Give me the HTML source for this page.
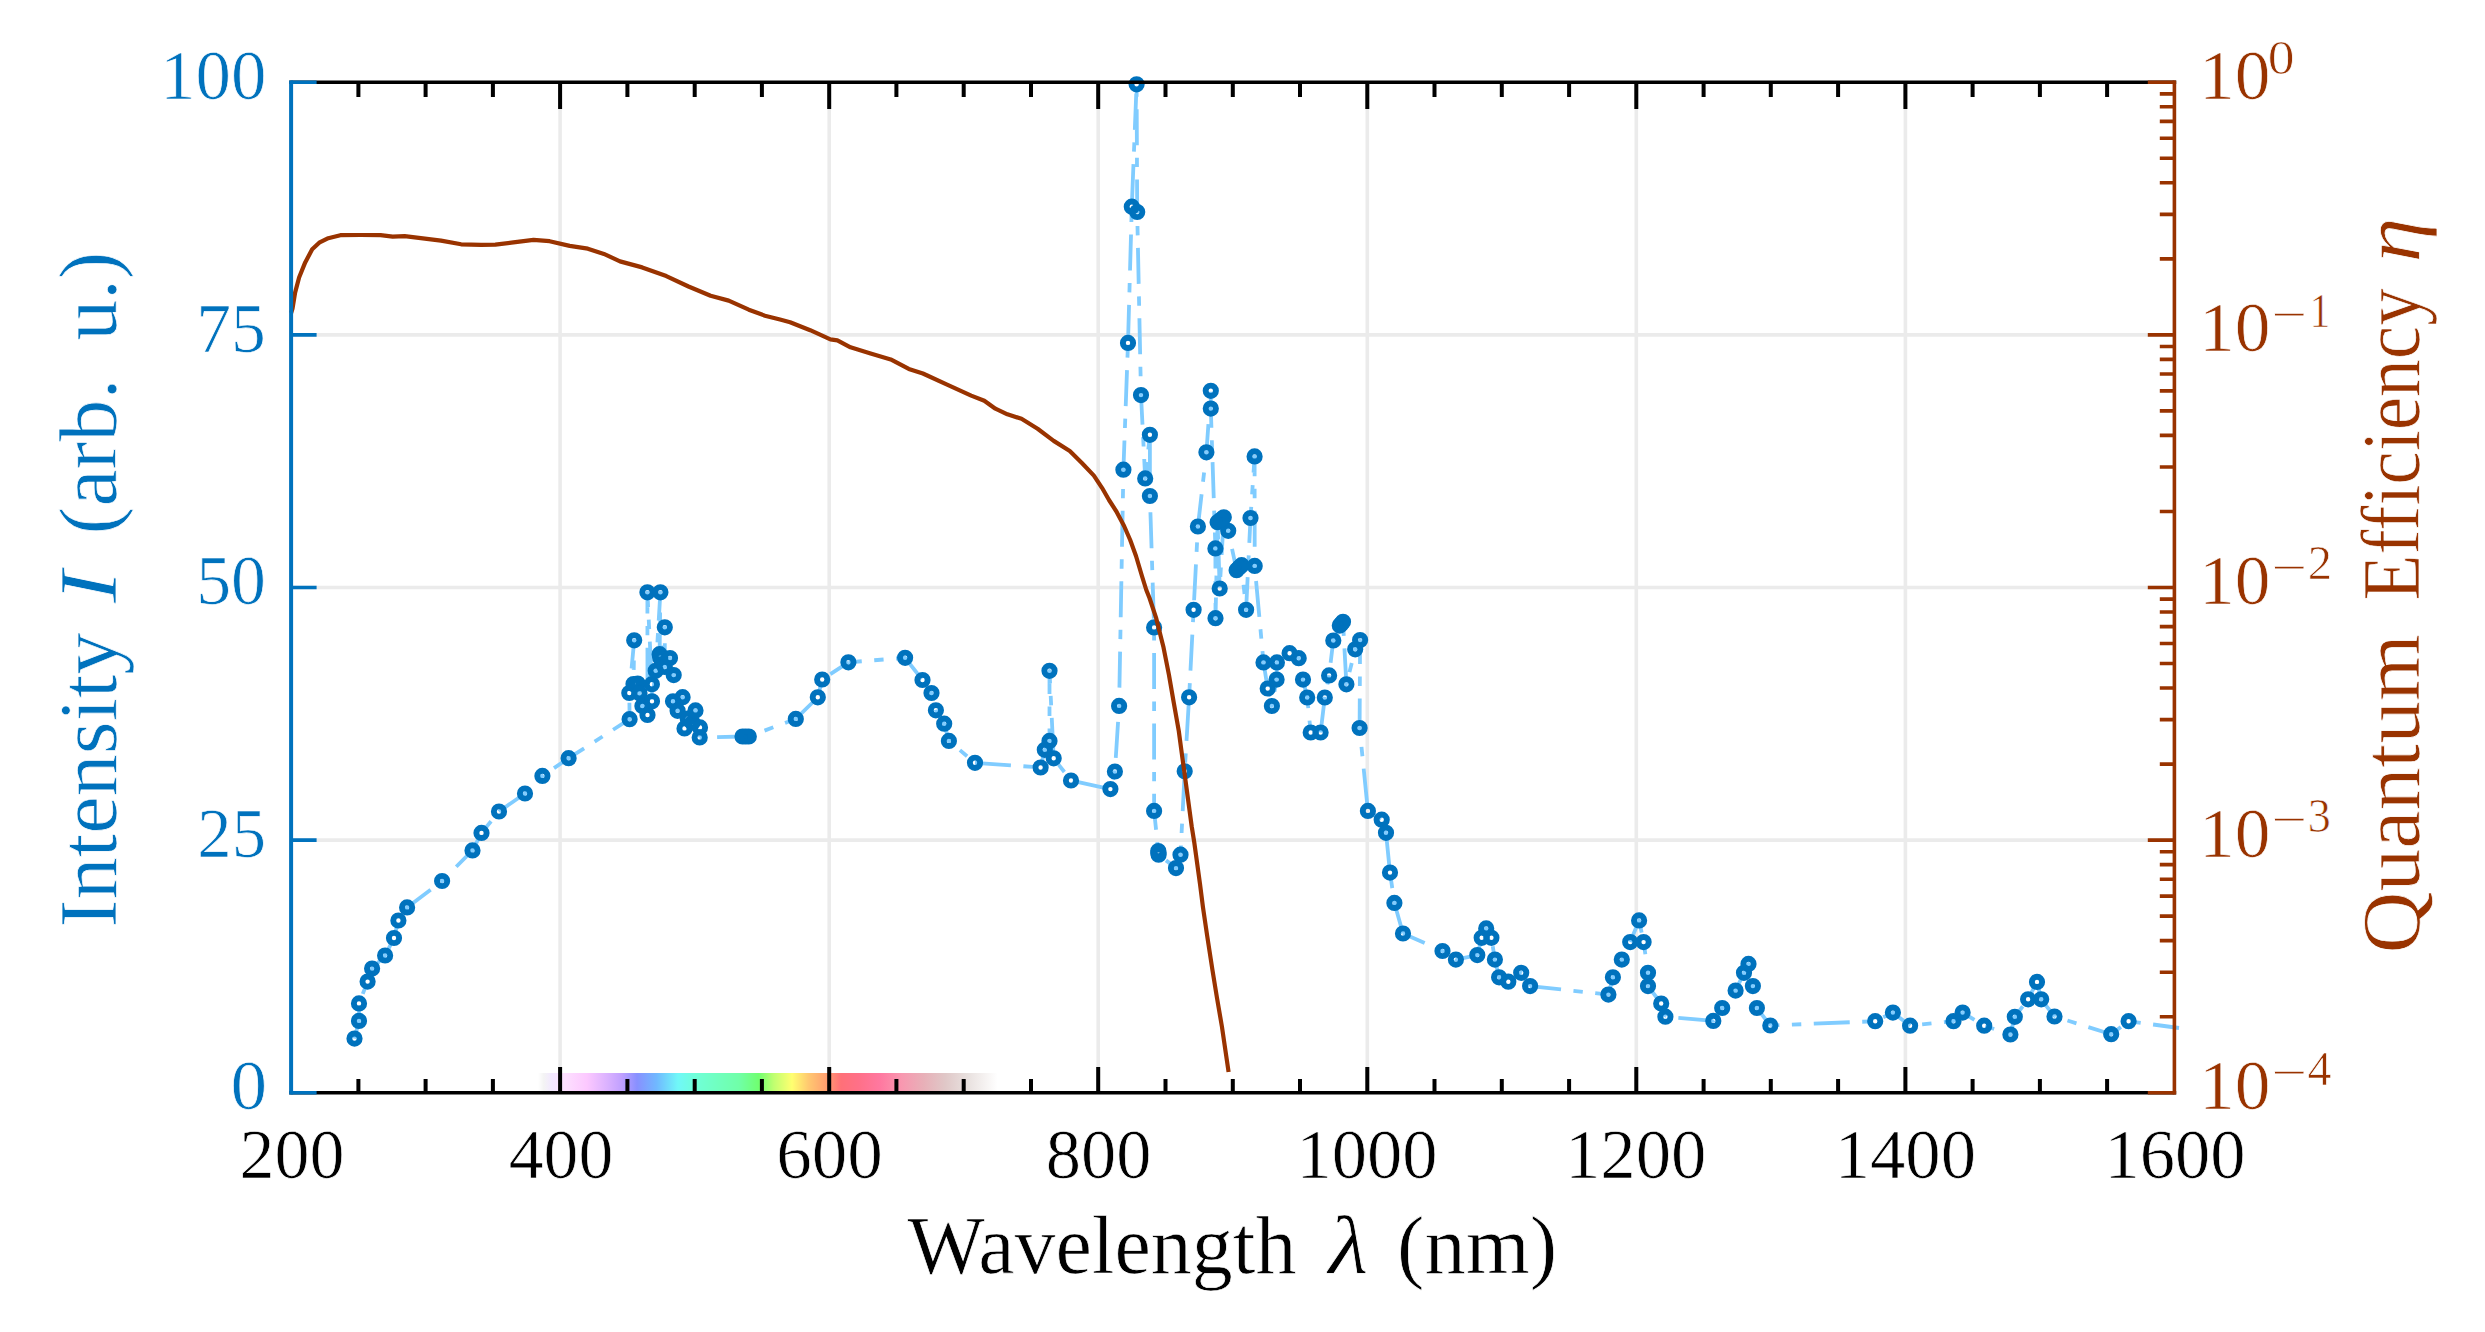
<!DOCTYPE html>
<html lang="en"><head><meta charset="utf-8"><title>Spectrum</title>
<style>html,body{margin:0;padding:0;background:#fff;}body{width:2485px;height:1332px;overflow:hidden;}svg{display:block;}text{font-family:"Liberation Serif", "DejaVu Serif", serif;stroke:#fff;stroke-width:0.7px;}</style>
</head><body>
<svg width="2485" height="1332" viewBox="0 0 2485 1332">
<defs>
<linearGradient id="spec" gradientUnits="userSpaceOnUse" x1="538.0" y1="0" x2="997.6" y2="0">
<stop offset="0.0000" stop-color="#ffffff"/>
<stop offset="0.0120" stop-color="#f4f4f4"/>
<stop offset="0.0305" stop-color="#f2e8ff"/>
<stop offset="0.0587" stop-color="#fde0ff"/>
<stop offset="0.1066" stop-color="#fcc8ff"/>
<stop offset="0.1538" stop-color="#d8b0ff"/>
<stop offset="0.1821" stop-color="#c0a0ff"/>
<stop offset="0.2154" stop-color="#8890ff"/>
<stop offset="0.2578" stop-color="#70b8ff"/>
<stop offset="0.3046" stop-color="#70f8f8"/>
<stop offset="0.3429" stop-color="#70ffd8"/>
<stop offset="0.3895" stop-color="#70ffc0"/>
<stop offset="0.4373" stop-color="#70ffa8"/>
<stop offset="0.4800" stop-color="#70ff70"/>
<stop offset="0.5131" stop-color="#c0ff70"/>
<stop offset="0.5527" stop-color="#ffff70"/>
<stop offset="0.5888" stop-color="#ffc870"/>
<stop offset="0.6266" stop-color="#ffa070"/>
<stop offset="0.6593" stop-color="#ff7078"/>
<stop offset="0.6973" stop-color="#ff7088"/>
<stop offset="0.7441" stop-color="#ff78a0"/>
<stop offset="0.7920" stop-color="#f898b0"/>
<stop offset="0.8392" stop-color="#e8b0b8"/>
<stop offset="0.8866" stop-color="#e0c8c8"/>
<stop offset="0.9334" stop-color="#e8e0de"/>
<stop offset="1.0000" stop-color="#ffffff"/>
</linearGradient>
</defs>
<rect width="2485" height="1332" fill="#fff"/>
<path d="M560.1 82.3V1092.7M829.2 82.3V1092.7M1098.2 82.3V1092.7M1367.3 82.3V1092.7M1636.3 82.3V1092.7M1905.4 82.3V1092.7M291.1 840.1H2174.4M291.1 587.5H2174.4M291.1 334.9H2174.4" stroke="#EBEBEB" stroke-width="3.6" fill="none"/>
<rect x="538.0" y="1073" width="459.6" height="19.7" fill="url(#spec)"/>
<g stroke="#80CCFF" stroke-width="3.8" fill="none" stroke-dasharray="36 12.5 9.4 12.5" stroke-linejoin="round">
<path d="M354.5 1038.6 L359.0 1020.9 L359.0 1003.4 L367.6 981.6 L372.1 968.6 L385.1 955.5 L394.0 938.0 L398.4 920.5 L407.1 907.4 L442.1 881.0 L472.5 850.4 L481.5 832.9 L499.0 811.5 L525.0 793.5 L542.4 775.9 L568.6 758.2 L629.6 719.2 L629.3 693.0 L634.2 640.3 L633.5 684.0 L637.7 683.5 L639.5 693.3 L642.4 706.0 L647.5 715.0 L647.4 592.3 L651.9 684.2 L652.0 701.3 L655.7 670.8 L660.4 592.3 L659.6 654.2 L660.2 657.8 L664.8 627.3 L664.8 667.0 L670.0 658.0 L673.7 675.1 L673.0 701.3 L677.6 710.8 L682.6 697.2 L684.5 728.4 L687.7 718.6 L692.4 722.7 L695.5 710.4 L700.0 727.4 L699.7 737.4" stroke-dashoffset="2.5"/>
<path d="M699.7 737.4 L742.5 736.5 L748.8 736.5 L795.8 718.9 L817.8 697.3 L822.2 679.5 L848.4 662.3" stroke-dashoffset="53.0"/>
<path d="M848.4 662.3 L905.1 657.8 L922.5 680.0 L931.5 693.0 L935.9 710.3 L944.2 723.7 L948.9 740.9 L975.0 762.8" stroke-dashoffset="22.6"/>
<path d="M975.0 762.8 L1040.6 767.5 L1044.8 749.8 L1049.5 740.9 L1049.5 670.8 L1053.7 758.3 L1071.0 780.5 L1110.4 789.1 L1114.9 771.5 L1119.1 705.9 L1123.4 469.7 L1128.0 342.9" stroke-dashoffset="0.0"/>
<path d="M1128.0 342.9 L1131.8 206.7 L1136.6 84.3 L1137.2 212.0" stroke-dashoffset="68.4"/>
<path d="M1137.2 212.0 L1141.0 395.1 L1145.2 478.4 L1149.9 434.8 L1149.9 496.0 L1154.1 627.4 L1154.1 810.9 L1158.3 851.1 L1158.6 854.7 L1176.0 868.1 L1180.5 854.7 L1184.7 771.3 L1189.1 697.3 L1193.6 609.8 L1197.9 526.5 L1206.4 452.3 L1210.8 390.8 L1210.8 408.6 L1215.4 548.4 L1215.5 618.2 L1217.6 522.2 L1219.7 588.5 L1223.8 517.3 L1228.2 530.8 L1236.6 570.2 L1241.6 565.2 L1246.1 609.8 L1250.5 518.0 L1254.6 456.4 L1254.7 565.9 L1263.5 662.4 L1267.7 688.5 L1271.9 706.0 L1276.6 679.6 L1276.9 662.4 L1289.6 653.2 L1298.7 658.2 L1303.0 679.6 L1307.2 697.5 L1310.7 732.5 L1320.6 732.5 L1324.8 697.5 L1329.1 675.4 L1333.3 640.5 L1339.8 625.6 L1343.0 621.8 L1346.4 684.3 L1355.2 649.3 L1360.1 640.1 L1359.6 728.0 L1367.9 810.9 L1381.7 819.7 L1386.0 832.8 L1390.0 872.6 L1394.4 902.9 L1403.0 933.5" stroke-dashoffset="34.5"/>
<path d="M1403.0 933.5 L1442.5 951.0 L1455.9 959.6 L1477.3 955.1 L1481.7 937.8 L1486.2 928.4 L1491.4 937.8 L1494.9 959.6 L1499.1 977.3 L1508.3 981.7 L1521.2 972.8 L1530.1 986.1" stroke-dashoffset="12.3"/>
<path d="M1530.1 986.1 L1608.4 994.6 L1612.9 977.3 L1621.8 959.6 L1630.2 942.1 L1639.1 920.4 L1643.6 942.1 L1648.0 972.8 L1648.0 986.1 L1661.2 1003.5 L1665.4 1016.7" stroke-dashoffset="4.9"/>
<path d="M1665.4 1016.7 L1713.3 1020.9 L1722.2 1008.0 L1735.6 990.6 L1744.0 972.8 L1748.5 963.9 L1752.9 986.1 L1756.9 1008.0 L1770.3 1025.5" stroke-dashoffset="57.4"/>
<path d="M1770.3 1025.5 L1875.2 1021.2 L1892.9 1012.6 L1910.1 1025.7" stroke-dashoffset="26.9"/>
<path d="M1910.1 1025.7 L1953.5 1021.2 L1962.6 1012.6 L1984.2 1025.7 L2010.4 1034.5 L2014.8 1016.8 L2028.1 999.3 L2037.0 981.9 L2041.2 999.3 L2054.5 1016.5" stroke-dashoffset="36.4"/>
<path d="M2054.5 1016.5 L2111.2 1034.2 L2128.6 1021.2" stroke-dashoffset="34.9"/>
<path d="M2128.6 1021.2 L2179.0 1028.0" stroke-dashoffset="45.7"/>
</g>
<g fill="none" stroke="#0072BD" stroke-width="5.9">
<circle cx="354.5" cy="1038.6" r="5.15"/>
<circle cx="359.0" cy="1020.9" r="5.15"/>
<circle cx="359.0" cy="1003.4" r="5.15"/>
<circle cx="367.6" cy="981.6" r="5.15"/>
<circle cx="372.1" cy="968.6" r="5.15"/>
<circle cx="385.1" cy="955.5" r="5.15"/>
<circle cx="394.0" cy="938.0" r="5.15"/>
<circle cx="398.4" cy="920.5" r="5.15"/>
<circle cx="407.1" cy="907.4" r="5.15"/>
<circle cx="442.1" cy="881.0" r="5.15"/>
<circle cx="472.5" cy="850.4" r="5.15"/>
<circle cx="481.5" cy="832.9" r="5.15"/>
<circle cx="499.0" cy="811.5" r="5.15"/>
<circle cx="525.0" cy="793.5" r="5.15"/>
<circle cx="542.4" cy="775.9" r="5.15"/>
<circle cx="568.6" cy="758.2" r="5.15"/>
<circle cx="629.6" cy="719.2" r="5.15"/>
<circle cx="629.3" cy="693.0" r="5.15"/>
<circle cx="634.2" cy="640.3" r="5.15"/>
<circle cx="633.5" cy="684.0" r="5.15"/>
<circle cx="637.7" cy="683.5" r="5.15"/>
<circle cx="639.5" cy="693.3" r="5.15"/>
<circle cx="642.4" cy="706.0" r="5.15"/>
<circle cx="647.5" cy="715.0" r="5.15"/>
<circle cx="647.4" cy="592.3" r="5.15"/>
<circle cx="651.9" cy="684.2" r="5.15"/>
<circle cx="652.0" cy="701.3" r="5.15"/>
<circle cx="655.7" cy="670.8" r="5.15"/>
<circle cx="660.4" cy="592.3" r="5.15"/>
<circle cx="659.6" cy="654.2" r="5.15"/>
<circle cx="660.2" cy="657.8" r="5.15"/>
<circle cx="664.8" cy="627.3" r="5.15"/>
<circle cx="664.8" cy="667.0" r="5.15"/>
<circle cx="670.0" cy="658.0" r="5.15"/>
<circle cx="673.7" cy="675.1" r="5.15"/>
<circle cx="673.0" cy="701.3" r="5.15"/>
<circle cx="677.6" cy="710.8" r="5.15"/>
<circle cx="682.6" cy="697.2" r="5.15"/>
<circle cx="684.5" cy="728.4" r="5.15"/>
<circle cx="687.7" cy="718.6" r="5.15"/>
<circle cx="692.4" cy="722.7" r="5.15"/>
<circle cx="695.5" cy="710.4" r="5.15"/>
<circle cx="700.0" cy="727.4" r="5.15"/>
<circle cx="699.7" cy="737.4" r="5.15"/>
<circle cx="742.5" cy="736.5" r="5.15"/>
<circle cx="748.8" cy="736.5" r="5.15"/>
<circle cx="795.8" cy="718.9" r="5.15"/>
<circle cx="817.8" cy="697.3" r="5.15"/>
<circle cx="822.2" cy="679.5" r="5.15"/>
<circle cx="848.4" cy="662.3" r="5.15"/>
<circle cx="905.1" cy="657.8" r="5.15"/>
<circle cx="922.5" cy="680.0" r="5.15"/>
<circle cx="931.5" cy="693.0" r="5.15"/>
<circle cx="935.9" cy="710.3" r="5.15"/>
<circle cx="944.2" cy="723.7" r="5.15"/>
<circle cx="948.9" cy="740.9" r="5.15"/>
<circle cx="975.0" cy="762.8" r="5.15"/>
<circle cx="1040.6" cy="767.5" r="5.15"/>
<circle cx="1044.8" cy="749.8" r="5.15"/>
<circle cx="1049.5" cy="740.9" r="5.15"/>
<circle cx="1049.5" cy="670.8" r="5.15"/>
<circle cx="1053.7" cy="758.3" r="5.15"/>
<circle cx="1071.0" cy="780.5" r="5.15"/>
<circle cx="1110.4" cy="789.1" r="5.15"/>
<circle cx="1114.9" cy="771.5" r="5.15"/>
<circle cx="1119.1" cy="705.9" r="5.15"/>
<circle cx="1123.4" cy="469.7" r="5.15"/>
<circle cx="1128.0" cy="342.9" r="5.15"/>
<circle cx="1131.8" cy="206.7" r="5.15"/>
<circle cx="1136.6" cy="84.3" r="5.15"/>
<circle cx="1137.2" cy="212.0" r="5.15"/>
<circle cx="1141.0" cy="395.1" r="5.15"/>
<circle cx="1145.2" cy="478.4" r="5.15"/>
<circle cx="1149.9" cy="434.8" r="5.15"/>
<circle cx="1149.9" cy="496.0" r="5.15"/>
<circle cx="1154.1" cy="627.4" r="5.15"/>
<circle cx="1154.1" cy="810.9" r="5.15"/>
<circle cx="1158.3" cy="851.1" r="5.15"/>
<circle cx="1158.6" cy="854.7" r="5.15"/>
<circle cx="1176.0" cy="868.1" r="5.15"/>
<circle cx="1180.5" cy="854.7" r="5.15"/>
<circle cx="1184.7" cy="771.3" r="5.15"/>
<circle cx="1189.1" cy="697.3" r="5.15"/>
<circle cx="1193.6" cy="609.8" r="5.15"/>
<circle cx="1197.9" cy="526.5" r="5.15"/>
<circle cx="1206.4" cy="452.3" r="5.15"/>
<circle cx="1210.8" cy="390.8" r="5.15"/>
<circle cx="1210.8" cy="408.6" r="5.15"/>
<circle cx="1215.4" cy="548.4" r="5.15"/>
<circle cx="1215.5" cy="618.2" r="5.15"/>
<circle cx="1217.6" cy="522.2" r="5.15"/>
<circle cx="1219.7" cy="588.5" r="5.15"/>
<circle cx="1223.8" cy="517.3" r="5.15"/>
<circle cx="1228.2" cy="530.8" r="5.15"/>
<circle cx="1236.6" cy="570.2" r="5.15"/>
<circle cx="1241.6" cy="565.2" r="5.15"/>
<circle cx="1246.1" cy="609.8" r="5.15"/>
<circle cx="1250.5" cy="518.0" r="5.15"/>
<circle cx="1254.6" cy="456.4" r="5.15"/>
<circle cx="1254.7" cy="565.9" r="5.15"/>
<circle cx="1263.5" cy="662.4" r="5.15"/>
<circle cx="1267.7" cy="688.5" r="5.15"/>
<circle cx="1271.9" cy="706.0" r="5.15"/>
<circle cx="1276.6" cy="679.6" r="5.15"/>
<circle cx="1276.9" cy="662.4" r="5.15"/>
<circle cx="1289.6" cy="653.2" r="5.15"/>
<circle cx="1298.7" cy="658.2" r="5.15"/>
<circle cx="1303.0" cy="679.6" r="5.15"/>
<circle cx="1307.2" cy="697.5" r="5.15"/>
<circle cx="1310.7" cy="732.5" r="5.15"/>
<circle cx="1320.6" cy="732.5" r="5.15"/>
<circle cx="1324.8" cy="697.5" r="5.15"/>
<circle cx="1329.1" cy="675.4" r="5.15"/>
<circle cx="1333.3" cy="640.5" r="5.15"/>
<circle cx="1339.8" cy="625.6" r="5.15"/>
<circle cx="1343.0" cy="621.8" r="5.15"/>
<circle cx="1346.4" cy="684.3" r="5.15"/>
<circle cx="1355.2" cy="649.3" r="5.15"/>
<circle cx="1360.1" cy="640.1" r="5.15"/>
<circle cx="1359.6" cy="728.0" r="5.15"/>
<circle cx="1367.9" cy="810.9" r="5.15"/>
<circle cx="1381.7" cy="819.7" r="5.15"/>
<circle cx="1386.0" cy="832.8" r="5.15"/>
<circle cx="1390.0" cy="872.6" r="5.15"/>
<circle cx="1394.4" cy="902.9" r="5.15"/>
<circle cx="1403.0" cy="933.5" r="5.15"/>
<circle cx="1442.5" cy="951.0" r="5.15"/>
<circle cx="1455.9" cy="959.6" r="5.15"/>
<circle cx="1477.3" cy="955.1" r="5.15"/>
<circle cx="1481.7" cy="937.8" r="5.15"/>
<circle cx="1486.2" cy="928.4" r="5.15"/>
<circle cx="1491.4" cy="937.8" r="5.15"/>
<circle cx="1494.9" cy="959.6" r="5.15"/>
<circle cx="1499.1" cy="977.3" r="5.15"/>
<circle cx="1508.3" cy="981.7" r="5.15"/>
<circle cx="1521.2" cy="972.8" r="5.15"/>
<circle cx="1530.1" cy="986.1" r="5.15"/>
<circle cx="1608.4" cy="994.6" r="5.15"/>
<circle cx="1612.9" cy="977.3" r="5.15"/>
<circle cx="1621.8" cy="959.6" r="5.15"/>
<circle cx="1630.2" cy="942.1" r="5.15"/>
<circle cx="1639.1" cy="920.4" r="5.15"/>
<circle cx="1643.6" cy="942.1" r="5.15"/>
<circle cx="1648.0" cy="972.8" r="5.15"/>
<circle cx="1648.0" cy="986.1" r="5.15"/>
<circle cx="1661.2" cy="1003.5" r="5.15"/>
<circle cx="1665.4" cy="1016.7" r="5.15"/>
<circle cx="1713.3" cy="1020.9" r="5.15"/>
<circle cx="1722.2" cy="1008.0" r="5.15"/>
<circle cx="1735.6" cy="990.6" r="5.15"/>
<circle cx="1744.0" cy="972.8" r="5.15"/>
<circle cx="1748.5" cy="963.9" r="5.15"/>
<circle cx="1752.9" cy="986.1" r="5.15"/>
<circle cx="1756.9" cy="1008.0" r="5.15"/>
<circle cx="1770.3" cy="1025.5" r="5.15"/>
<circle cx="1875.2" cy="1021.2" r="5.15"/>
<circle cx="1892.9" cy="1012.6" r="5.15"/>
<circle cx="1910.1" cy="1025.7" r="5.15"/>
<circle cx="1953.5" cy="1021.2" r="5.15"/>
<circle cx="1962.6" cy="1012.6" r="5.15"/>
<circle cx="1984.2" cy="1025.7" r="5.15"/>
<circle cx="2010.4" cy="1034.5" r="5.15"/>
<circle cx="2014.8" cy="1016.8" r="5.15"/>
<circle cx="2028.1" cy="999.3" r="5.15"/>
<circle cx="2037.0" cy="981.9" r="5.15"/>
<circle cx="2041.2" cy="999.3" r="5.15"/>
<circle cx="2054.5" cy="1016.5" r="5.15"/>
<circle cx="2111.2" cy="1034.2" r="5.15"/>
<circle cx="2128.6" cy="1021.2" r="5.15"/>
<circle cx="1221.0" cy="519.5" r="5.15"/>
<circle cx="1239.2" cy="567.6" r="5.15"/>
<circle cx="1341.4" cy="623.8" r="5.15"/>
<circle cx="1158.4" cy="853.0" r="5.15"/>
<circle cx="745.6" cy="736.5" r="5.15"/>
</g>
<path d="M291.1 313.0 L292.5 308.7 L295.1 292.6 L299.1 277.5 L305.2 262.4 L312.2 249.3 L319.2 242.7 L328.3 238.2 L340.4 235.2 L360.5 235.0 L380.6 235.2 L392.7 236.6 L404.7 236.2 L420.8 238.2 L441.0 240.6 L461.1 244.3 L481.2 244.9 L495.3 244.7 L511.4 242.7 L533.5 239.8 L549.6 241.2 L569.7 245.9 L587.8 248.7 L603.9 253.9 L620.0 261.4 L642.2 267.4 L666.3 276.1 L688.5 286.5 L710.6 295.8 L728.7 300.6 L748.8 309.7 L764.9 315.7 L780.0 319.5 L790.1 322.2 L810.2 330.2 L830.4 339.3 L837.4 340.3 L850.5 347.3 L870.6 353.4 L890.7 359.4 L908.8 368.9 L922.9 373.5 L947.1 384.6 L971.2 395.6 L984.3 400.7 L995.4 408.7 L1007.4 414.3 L1021.5 418.8 L1037.6 428.8 L1053.7 440.9 L1069.8 451.0 L1081.9 463.0 L1093.9 475.6 L1102.0 487.8 L1109.0 500.0 L1116.4 511.5 L1124.1 526.0 L1130.2 540.0 L1136.0 556.0 L1142.1 576.5 L1146.3 590.0 L1149.5 598.0 L1156.2 618.2 L1163.3 646.4 L1168.9 674.7 L1173.8 702.9 L1178.8 731.1 L1182.0 755.0 L1185.3 779.0 L1191.7 826.4 L1194.3 842.7 L1200.0 884.0 L1203.0 907.6 L1207.2 936.0 L1212.4 969.7 L1217.0 998.0 L1221.9 1026.5 L1228.6 1072.0" stroke="#993300" stroke-width="4.2" fill="none" stroke-linejoin="round"/>
<path d="M289.3 82.3H2176.2M289.3 1092.7H2176.2" stroke="#000" stroke-width="3.5" fill="none"/>
<path d="M358.4 82.3v14.8M358.4 1092.7v-13.6M425.6 82.3v14.8M425.6 1092.7v-13.6M492.9 82.3v14.8M492.9 1092.7v-13.6M560.1 82.3v26.8M560.1 1092.7v-25.6M627.4 82.3v14.8M627.4 1092.7v-13.6M694.7 82.3v14.8M694.7 1092.7v-13.6M761.9 82.3v14.8M761.9 1092.7v-13.6M829.2 82.3v26.8M829.2 1092.7v-25.6M896.4 82.3v14.8M896.4 1092.7v-13.6M963.7 82.3v14.8M963.7 1092.7v-13.6M1031.0 82.3v14.8M1031.0 1092.7v-13.6M1098.2 82.3v26.8M1098.2 1092.7v-25.6M1165.5 82.3v14.8M1165.5 1092.7v-13.6M1232.8 82.3v14.8M1232.8 1092.7v-13.6M1300.0 82.3v14.8M1300.0 1092.7v-13.6M1367.3 82.3v26.8M1367.3 1092.7v-25.6M1434.5 82.3v14.8M1434.5 1092.7v-13.6M1501.8 82.3v14.8M1501.8 1092.7v-13.6M1569.1 82.3v14.8M1569.1 1092.7v-13.6M1636.3 82.3v26.8M1636.3 1092.7v-25.6M1703.6 82.3v14.8M1703.6 1092.7v-13.6M1770.8 82.3v14.8M1770.8 1092.7v-13.6M1838.1 82.3v14.8M1838.1 1092.7v-13.6M1905.4 82.3v26.8M1905.4 1092.7v-25.6M1972.6 82.3v14.8M1972.6 1092.7v-13.6M2039.9 82.3v14.8M2039.9 1092.7v-13.6M2107.1 82.3v14.8M2107.1 1092.7v-13.6" stroke="#000" stroke-width="4" fill="none"/>
<path d="M291.1 80.5V1094.5" stroke="#0072BD" stroke-width="4" fill="none"/>
<path d="M291.1 1092.7h25.5M291.1 840.1h25.5M291.1 587.5h25.5M291.1 334.9h25.5M291.1 82.3h25.5" stroke="#0072BD" stroke-width="3.6" fill="none"/>
<path d="M2174.4 80.5V1094.5" stroke="#993300" stroke-width="3.6" fill="none"/>
<path d="M2174.4 82.3h-26.6M2174.4 258.9h-14.6M2174.4 214.4h-14.6M2174.4 182.8h-14.6M2174.4 158.3h-14.6M2174.4 138.3h-14.6M2174.4 121.4h-14.6M2174.4 106.8h-14.6M2174.4 93.9h-14.6M2174.4 334.9h-26.6M2174.4 511.5h-14.6M2174.4 467.0h-14.6M2174.4 435.4h-14.6M2174.4 410.9h-14.6M2174.4 390.9h-14.6M2174.4 374.0h-14.6M2174.4 359.4h-14.6M2174.4 346.5h-14.6M2174.4 587.5h-26.6M2174.4 764.1h-14.6M2174.4 719.6h-14.6M2174.4 688.0h-14.6M2174.4 663.5h-14.6M2174.4 643.5h-14.6M2174.4 626.6h-14.6M2174.4 612.0h-14.6M2174.4 599.1h-14.6M2174.4 840.1h-26.6M2174.4 1016.7h-14.6M2174.4 972.2h-14.6M2174.4 940.6h-14.6M2174.4 916.1h-14.6M2174.4 896.1h-14.6M2174.4 879.2h-14.6M2174.4 864.6h-14.6M2174.4 851.7h-14.6M2174.4 1092.7h-26.6" stroke="#993300" stroke-width="3.6" fill="none"/>
<g fill="#000">
<text x="239.5" y="1177.9" font-size="70" textLength="105.0" lengthAdjust="spacingAndGlyphs">200</text>
<text x="508.7" y="1177.9" font-size="70" textLength="104.6" lengthAdjust="spacingAndGlyphs">400</text>
<text x="776.2" y="1177.9" font-size="70" textLength="106.6" lengthAdjust="spacingAndGlyphs">600</text>
<text x="1045.8" y="1177.9" font-size="70" textLength="105.6" lengthAdjust="spacingAndGlyphs">800</text>
<text x="1296.4" y="1177.9" font-size="70" textLength="141.1" lengthAdjust="spacingAndGlyphs">1000</text>
<text x="1564.9" y="1177.9" font-size="70" textLength="141.5" lengthAdjust="spacingAndGlyphs">1200</text>
<text x="1834.7" y="1177.9" font-size="70" textLength="141.3" lengthAdjust="spacingAndGlyphs">1400</text>
<text x="2104.4" y="1177.9" font-size="70" textLength="141.1" lengthAdjust="spacingAndGlyphs">1600</text>
</g>
<g fill="#0072BD">
<text x="230.6" y="1109.3" font-size="70" textLength="36.6" lengthAdjust="spacingAndGlyphs">0</text>
<text x="197.3" y="856.7" font-size="70" textLength="68.7" lengthAdjust="spacingAndGlyphs">25</text>
<text x="196.2" y="604.1" font-size="70" textLength="69.8" lengthAdjust="spacingAndGlyphs">50</text>
<text x="196.3" y="351.5" font-size="70" textLength="69.6" lengthAdjust="spacingAndGlyphs">75</text>
<text x="160.1" y="98.9" font-size="70" textLength="106.3" lengthAdjust="spacingAndGlyphs">100</text>
</g>
<g fill="#993300">
<text x="2199.0" y="98.8" font-size="70" textLength="71.4" lengthAdjust="spacingAndGlyphs">10</text>
<text x="2267.8" y="74.2" font-size="49" textLength="26.8" lengthAdjust="spacingAndGlyphs">0</text>
<text x="2199.0" y="351.4" font-size="70" textLength="71.4" lengthAdjust="spacingAndGlyphs">10</text>
<text x="2271.4" y="331.1" font-size="49" textLength="35.8" lengthAdjust="spacingAndGlyphs">−</text>
<text x="2309.7" y="326.8" font-size="49" textLength="20.4" lengthAdjust="spacingAndGlyphs">1</text>
<text x="2199.0" y="604.0" font-size="70" textLength="71.4" lengthAdjust="spacingAndGlyphs">10</text>
<text x="2271.4" y="583.7" font-size="49" textLength="35.8" lengthAdjust="spacingAndGlyphs">−</text>
<text x="2307.7" y="579.4" font-size="49" textLength="24.3" lengthAdjust="spacingAndGlyphs">2</text>
<text x="2199.0" y="856.6" font-size="70" textLength="71.4" lengthAdjust="spacingAndGlyphs">10</text>
<text x="2271.4" y="836.3" font-size="49" textLength="35.8" lengthAdjust="spacingAndGlyphs">−</text>
<text x="2307.8" y="832.0" font-size="49" textLength="23.1" lengthAdjust="spacingAndGlyphs">3</text>
<text x="2199.0" y="1109.2" font-size="70" textLength="71.4" lengthAdjust="spacingAndGlyphs">10</text>
<text x="2271.4" y="1088.9" font-size="49" textLength="35.8" lengthAdjust="spacingAndGlyphs">−</text>
<text x="2307.4" y="1084.6" font-size="49" textLength="24.0" lengthAdjust="spacingAndGlyphs">4</text>
</g>
<g fill="#000">
<text x="907.5" y="1273.0" font-size="82" textLength="388.9" lengthAdjust="spacingAndGlyphs">Wavelength</text>
<text x="1328.4" y="1273.0" font-size="82" textLength="39.8" lengthAdjust="spacingAndGlyphs" font-style="italic">λ</text>
<text x="1397.1" y="1273.0" font-size="82" textLength="160.0" lengthAdjust="spacingAndGlyphs">(nm)</text>
</g>
<g fill="#0072BD" transform="translate(116 1000) rotate(-90)">
<text x="72.5" y="0.0" font-size="82" textLength="295.0" lengthAdjust="spacingAndGlyphs">Intensity</text>
<text x="396.9" y="0.0" font-size="82" textLength="32.3" lengthAdjust="spacingAndGlyphs" font-style="italic">I</text>
<text x="465.5" y="0.0" font-size="82" textLength="155.9" lengthAdjust="spacingAndGlyphs">(arb.</text>
<text x="659.3" y="0.0" font-size="82" textLength="88.9" lengthAdjust="spacingAndGlyphs">u.)</text>
</g>
<g fill="#993300" transform="translate(2418.5 1000) rotate(-90)">
<text x="46.4" y="0.0" font-size="82" textLength="319.5" lengthAdjust="spacingAndGlyphs">Quantum</text>
<text x="399.6" y="0.0" font-size="82" textLength="312.2" lengthAdjust="spacingAndGlyphs">Efficiency</text>
<text x="737.4" y="0.0" font-size="82" textLength="44.9" lengthAdjust="spacingAndGlyphs" font-style="italic">η</text>
</g>
</svg></body></html>
